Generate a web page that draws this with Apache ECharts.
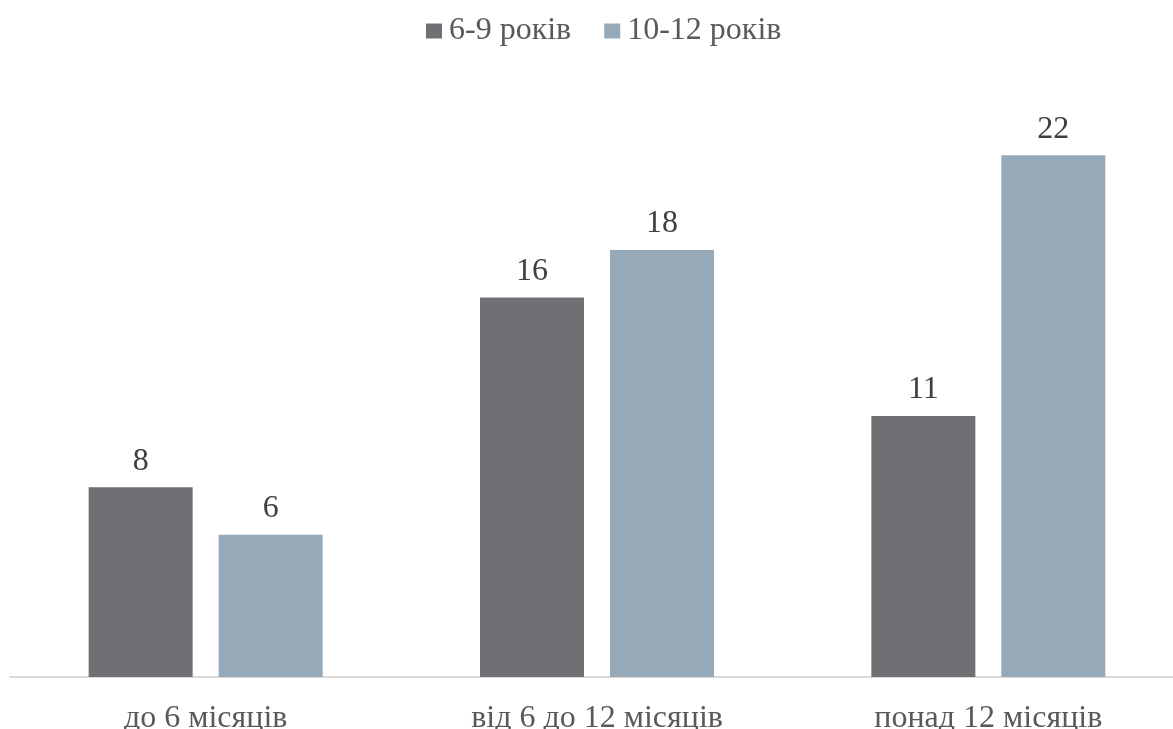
<!DOCTYPE html>
<html>
<head>
<meta charset="utf-8">
<script src="https://cdn.jsdelivr.net/npm/echarts@6/dist/echarts.min.js"></script>
<style>
  html, body { margin: 0; padding: 0; background: #fff; }
  #chart { width: 1173px; height: 729px; }
</style>
</head>
<body>
<div id="chart"></div>
<script>
// Duration groups on the category axis
const categories = ['до 6 місяців', 'від 6 до 12 місяців', 'понад 12 місяців'];
// Age groups
const seriesNames = ['6-9 років', '10-12 років'];
const valuesYounger = [8, 16, 11];
const valuesOlder = [6, 18, 22];

const FONT = '"Liberation Serif", "Times New Roman", serif';
const TEXT = '#595959';

const chart = echarts.init(document.getElementById('chart'));
const labelStyle = {
  show: true,
  position: 'top',
  distance: 10,
  color: '#404040',
  fontFamily: FONT,
  fontSize: 32
};

chart.setOption({
  animation: false,
  legend: {
    top: 10,
    left: 421,
    itemWidth: 16,
    itemHeight: 15,
    itemGap: 33,
    icon: 'rect',
    textStyle: { color: TEXT, fontFamily: FONT, fontSize: 32, padding: [0, 0, 0, 2] },
    data: seriesNames
  },
  grid: {
    left: 10, width: 1174, top: 84, bottom: 52,
    containLabel: false,
    outerBoundsMode: 'none'
  },
  xAxis: {
    type: 'category',
    data: categories,
    axisLine: { lineStyle: { color: '#d9d9d9', width: 2 } },
    axisTick: { show: false },
    axisLabel: { color: TEXT, fontFamily: FONT, fontSize: 32, margin: 26 }
  },
  yAxis: {
    type: 'value',
    min: 0,
    max: 25,
    show: false,
    splitLine: { show: false }
  },
  series: [
    {
      name: seriesNames[0],
      type: 'bar',
      data: valuesYounger,
      barWidth: 104,
      barGap: '25%',
      itemStyle: { color: '#706f74' },
      label: labelStyle
    },
    {
      name: seriesNames[1],
      type: 'bar',
      data: valuesOlder,
      barWidth: 104,
      itemStyle: { color: '#95a9b8' },
      label: labelStyle
    }
  ]
});
</script>
</body>
</html>
